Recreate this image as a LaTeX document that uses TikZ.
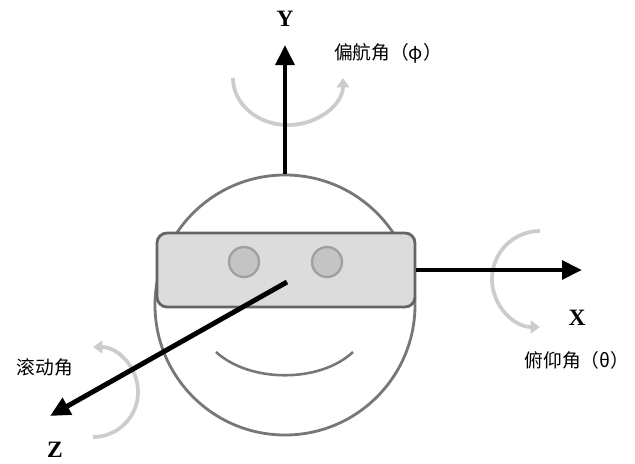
\documentclass[tikz,border=0pt]{standalone}
\usepackage{fontspec}
\setmainfont{Liberation Serif}
\newfontfamily\cjk{Noto Sans CJK SC}
\usetikzlibrary{arrows.meta}
\definecolor{rimgray}{HTML}{777777}
\definecolor{bandgray}{HTML}{DCDCDC}
\definecolor{eyegray}{HTML}{C4C4C4}
\definecolor{turngray}{HTML}{CCCCCC}
\tikzstyle{axis} = [line width=4.2pt,-{Triangle[length=0.6cm,width=0.55cm]}]
\tikzstyle{turn} = [line width=3.2pt,color=turngray,-{Triangle[length=0.28cm,width=0.38cm]}]
\tikzstyle{axisLabel} = [font=\bfseries\fontsize{20}{20}\selectfont]
\tikzstyle{angLabel} = [font=\cjk\fontsize{16}{16}\selectfont]

\begin{document}
\begin{tikzpicture}[x=0.03cm,y=0.03cm]
		\useasboundingbox (0,0) rectangle (635,463);
		% head, visor and eyes
		\node (head) [circle, draw=rimgray, line width=2.4pt, minimum size=7.8cm, inner sep=0pt] at (285,158) {};
		\draw [rimgray, line width=2.2pt] (216,111) .. controls (250,80) and (320,80) .. (353,111);
		\node (band) [rectangle, rounded corners=0.3cm, draw=rimgray!85!black, fill=bandgray, line width=2.4pt, minimum width=7.74cm, minimum height=2.22cm] at (286,193) {};
		\node (leftEye) [circle, draw=rimgray!70, fill=eyegray, line width=2pt, minimum size=0.9cm] at (244,201) {};
		\node (rightEye) [circle, draw=rimgray!70, fill=eyegray, line width=2pt, minimum size=0.9cm] at (327,201) {};
		% axis ends
		\coordinate (yTip) at (285,418);
		\coordinate (xTip) at (582,193);
		\coordinate (zFrom) at (287,181);
		\coordinate (zTip) at (50,47);
		% rotations
		\draw [turn] (233,385) arc (180:360:55 and 47);
		\draw [turn] (540,232) arc (90:270:48);
		\draw [turn, {Triangle[length=0.28cm,width=0.38cm]}-] (93,116) arc (90:-90:45);
		% axes
		\draw [axis] (head.north) -- (yTip);
		\draw [axis] (band.east) -- (xTip);
		\draw [axis] (zFrom) -- (zTip);
		% labels
		\node (yLabel) [axisLabel] at (285,444) {Y};
		\node (xLabel) [axisLabel] at (577,145) {X};
		\node (zLabel) [axisLabel] at (55,13) {Z};
		\node (yaw) [angLabel] at (388,410) {偏航角（φ）};
		\node (pitch) [angLabel] at (577,103) {俯仰角（θ）};
		\node (roll) [angLabel] at (45,96) {滚动角};
	\end{tikzpicture}
\end{document}
